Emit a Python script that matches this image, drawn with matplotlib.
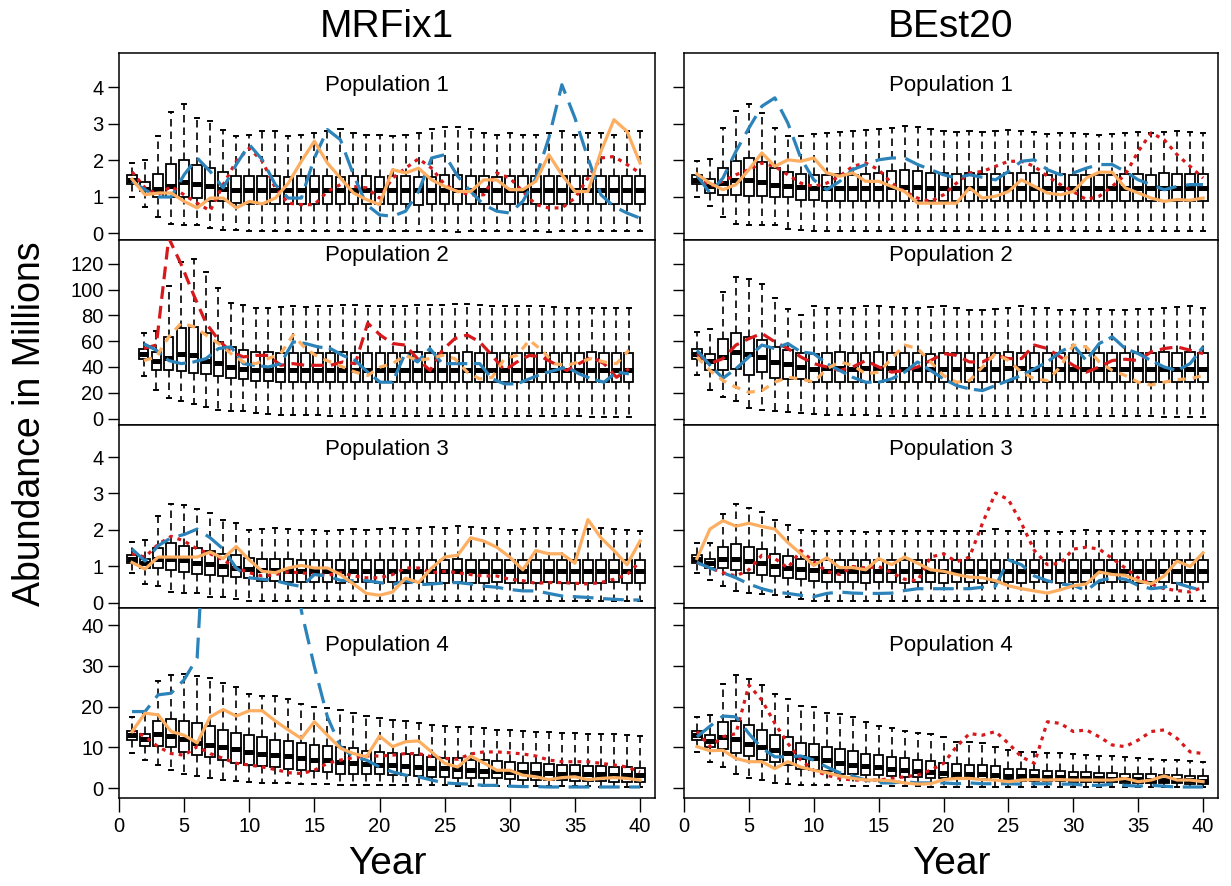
import matplotlib
matplotlib.use("Agg")
import matplotlib.pyplot as plt

plt.rcParams['font.family'] = ['Liberation Sans', 'DejaVu Sans']

years = list(range(1, 41))
col_titles = ["MRFix1", "BEst20"]
pop_titles = ["Population 1", "Population 2", "Population 3", "Population 4"]

# ---------------- Population 1, MRFix1 ----------------
p1L_lo = [1.00,0.71,0.44,0.26,0.23,0.21,0.14,0.09,0.09,0.06,
          0.05,0.05,0.06,0.05,0.05,0.05,0.06,0.05,0.05,0.05,
          0.05,0.06,0.05,0.05,0.05,0.04,0.05,0.05,0.05,0.05,
          0.05,0.05,0.04,0.05,0.05,0.05,0.05,0.05,0.05,0.05]
p1L_q1 = [1.35,1.15,0.99,0.99,0.98,0.96,0.89,0.89,0.82,0.80,
          0.80,0.79,0.80,0.79,0.80,0.79,0.80,0.80,0.80,0.79,
          0.80,0.79,0.78,0.79,0.80,0.80,0.79,0.80,0.80,0.79,
          0.80,0.80,0.81,0.80,0.79,0.80,0.80,0.80,0.79,0.80]
p1L_med = [1.45,1.22,1.20,1.30,1.40,1.35,1.30,1.20,1.18,1.18,
           1.18,1.17,1.17,1.18,1.18,1.17,1.17,1.18,1.18,1.17,
           1.18,1.18,1.17,1.17,1.18,1.19,1.18,1.18,1.17,1.18,
           1.18,1.19,1.18,1.18,1.17,1.18,1.18,1.19,1.18,1.18]
p1L_q3 = [1.58,1.39,1.63,1.90,2.00,1.87,1.78,1.67,1.57,1.56,
          1.57,1.56,1.55,1.56,1.57,1.56,1.55,1.56,1.56,1.55,
          1.57,1.56,1.55,1.55,1.58,1.58,1.57,1.56,1.55,1.56,
          1.56,1.57,1.56,1.57,1.56,1.57,1.56,1.57,1.56,1.57]
p1L_hi = [1.93,2.00,2.65,3.31,3.54,3.16,3.08,2.84,2.67,2.70,
          2.80,2.80,2.65,2.70,2.75,2.80,2.85,2.75,2.70,2.70,
          2.65,2.70,2.75,2.85,2.90,2.90,2.85,2.75,2.70,2.75,
          2.70,2.70,2.75,2.80,2.70,2.75,2.75,2.70,2.80,2.80]
p1L_red = [1.68,1.24,1.05,1.28,1.05,0.82,0.61,1.33,1.97,2.33,
           1.97,1.24,0.82,0.78,0.78,1.14,1.33,1.28,1.24,0.96,
           1.51,1.78,2.04,1.78,1.33,1.14,1.05,1.05,1.65,1.51,
           1.14,0.78,0.69,0.69,0.96,1.51,2.06,2.10,1.88,1.65]
p1L_blue = [1.42,1.19,0.99,0.99,1.60,2.06,1.69,1.24,1.88,2.43,
            2.01,1.33,0.96,0.96,2.06,2.84,2.56,1.60,0.78,0.50,
            0.46,0.60,1.14,2.06,2.15,1.56,1.14,0.78,0.60,0.55,
            0.87,1.51,2.61,4.07,3.16,2.06,1.05,0.73,0.55,0.41]
p1L_orange = [1.48,1.05,1.10,1.10,0.87,0.69,0.96,0.96,0.69,0.87,
              0.80,0.96,1.37,1.97,2.52,1.92,1.51,1.10,0.92,0.78,
              1.74,1.65,1.78,1.46,1.28,1.14,1.14,1.46,1.46,1.19,
              1.19,1.42,2.15,1.60,1.14,1.14,2.24,3.11,2.79,1.92]

# ---------------- Population 1, BEst20 ----------------
p1R_lo = [0.99,0.73,0.44,0.26,0.23,0.23,0.23,0.12,0.09,0.07,
          0.06,0.06,0.06,0.05,0.06,0.06,0.06,0.05,0.06,0.06,
          0.06,0.06,0.05,0.06,0.06,0.06,0.06,0.05,0.06,0.06,
          0.06,0.06,0.06,0.05,0.06,0.06,0.06,0.06,0.05,0.06]
p1R_q1 = [1.35,1.10,1.05,1.05,1.03,1.03,1.00,0.98,0.92,0.90,
          0.89,0.88,0.88,0.88,0.87,0.88,0.88,0.88,0.88,0.87,
          0.88,0.88,0.87,0.88,0.88,0.88,0.87,0.88,0.88,0.88,
          0.87,0.88,0.88,0.88,0.88,0.87,0.88,0.88,0.88,0.88]
p1R_med = [1.45,1.30,1.38,1.45,1.45,1.40,1.32,1.28,1.26,1.25,
           1.25,1.25,1.24,1.25,1.25,1.26,1.26,1.26,1.25,1.25,
           1.25,1.25,1.24,1.25,1.25,1.25,1.25,1.24,1.25,1.25,
           1.24,1.25,1.25,1.25,1.24,1.25,1.25,1.25,1.25,1.25]
p1R_q3 = [1.60,1.48,1.78,1.99,2.06,1.94,1.78,1.67,1.62,1.60,
          1.60,1.61,1.60,1.62,1.65,1.70,1.72,1.70,1.66,1.64,
          1.62,1.64,1.62,1.62,1.65,1.66,1.64,1.60,1.61,1.60,
          1.60,1.58,1.60,1.62,1.62,1.60,1.64,1.63,1.62,1.62]
p1R_hi = [1.99,2.04,2.87,3.34,3.54,3.30,2.88,2.65,2.67,2.72,
          2.75,2.78,2.80,2.82,2.85,2.88,2.93,2.90,2.85,2.80,
          2.78,2.80,2.78,2.80,2.82,2.80,2.78,2.72,2.75,2.75,
          2.72,2.70,2.72,2.75,2.78,2.75,2.78,2.80,2.78,2.75]
p1R_red = [1.56,1.28,1.42,1.60,1.74,1.92,1.83,1.60,1.37,1.28,
           1.37,1.56,1.83,1.92,1.74,1.37,1.14,0.96,0.87,1.05,
           1.37,1.65,1.69,1.83,1.97,1.97,1.83,1.56,1.33,1.14,
           0.92,1.01,1.28,1.60,2.24,2.75,2.56,2.15,1.83,1.51]
p1R_blue = [1.58,1.10,1.51,2.24,2.88,3.48,3.71,3.02,2.06,1.46,
            1.19,1.42,1.74,1.88,2.01,2.06,2.06,1.88,1.74,1.60,
            1.51,1.60,1.53,1.46,1.69,1.97,2.01,1.74,1.60,1.65,
            1.78,1.88,1.88,1.69,1.46,1.33,1.19,1.28,1.33,1.33]
p1R_orange = [1.62,1.37,1.19,1.33,1.74,2.20,1.83,2.01,1.97,2.06,
              1.65,1.56,1.65,1.42,1.42,1.28,1.14,0.82,0.82,0.82,
              0.82,1.24,0.96,1.01,1.14,1.46,1.28,1.10,1.05,1.14,
              1.51,1.67,1.67,1.24,1.10,0.96,0.87,0.92,0.90,0.96]

# ---------------- Population 2, MRFix1 ----------------
p2L_lo = [33.0,22.5,15.7,13.3,11.2,8.6,6.8,6.0,5.5,4.5,
          3.5,3.0,2.8,2.5,2.5,2.3,2.2,2.2,2.0,2.0,
          2.0,1.9,1.9,1.8,1.8,1.8,1.8,1.7,1.7,1.7,
          1.7,1.6,1.6,1.6,1.6,1.6,1.5,1.5,1.5,1.5]
p2L_q1 = [46.0,37.9,37.3,36.6,35.5,34.7,32.9,31.3,30.3,29.5,
          29.0,28.5,28.5,28.2,28.2,28.0,28.0,28.0,28.2,28.0,
          28.0,28.2,28.0,28.0,28.0,28.2,28.0,28.0,28.0,28.2,
          28.0,28.0,28.0,28.2,28.0,28.0,28.0,28.0,28.0,28.0]
p2L_med = [50.0,45.0,47.0,50.0,49.0,45.0,43.0,40.0,38.5,38.0,
           38.0,38.0,38.0,37.8,38.0,38.0,38.0,37.8,38.0,38.0,
           38.0,37.8,38.0,38.0,38.0,38.0,37.8,38.0,38.0,38.0,
           38.0,38.0,37.8,38.0,38.0,38.0,38.0,38.0,38.0,38.0]
p2L_q3 = [54.3,51.7,63.4,70.5,71.3,66.0,59.5,55.6,53.0,52.0,
          51.5,51.0,51.0,51.0,51.0,51.0,51.5,51.0,51.0,51.0,
          51.0,51.0,51.5,51.0,51.0,51.0,51.5,51.0,51.0,51.0,
          51.0,51.0,51.0,51.0,51.0,51.0,51.5,51.0,51.0,51.0]
p2L_hi = [66.0,68.0,102.6,121.7,124.0,114.0,101.0,89.6,87.7,86.0,
          86.0,86.5,87.0,86.5,87.0,87.0,88.0,88.0,87.5,87.0,
          87.0,87.5,88.0,88.0,88.0,88.5,88.5,88.0,87.0,87.5,
          87.0,87.0,87.0,86.5,86.0,86.0,86.0,86.0,86.0,86.0]
p2L_red = [54.3,57.0,140.0,119.6,96.0,74.0,61.0,51.7,47.8,49.0,
           49.0,41.3,42.6,41.3,41.3,41.3,43.9,42.6,74.0,64.8,
           58.2,57.0,46.5,37.3,53.0,62.0,64.8,59.5,49.0,37.3,
           43.9,49.0,47.8,42.6,37.3,42.6,47.8,42.6,32.0,38.6]
p2L_blue = [58.0,53.0,45.0,42.6,43.9,46.5,54.3,55.6,42.6,41.3,
            40.0,42.6,59.5,58.2,55.6,54.3,49.0,45.0,36.0,28.2,
            28.2,50.4,43.9,54.3,42.6,42.6,42.6,42.6,30.8,26.9,
            26.9,30.8,34.7,37.3,40.0,34.7,30.8,28.2,36.0,34.7]
p2L_orange = [45.0,47.8,63.4,74.0,71.3,64.8,58.2,50.4,43.9,42.6,
              46.5,50.4,64.8,54.3,47.8,43.9,40.0,36.0,33.4,40.0,
              42.6,49.0,45.0,46.5,49.0,46.5,36.0,30.8,32.0,46.5,
              49.0,60.8,53.0,42.6,41.3,43.9,46.5,43.9,42.6,53.0]

# ---------------- Population 2, BEst20 ----------------
p2R_lo = [34.0,22.5,16.4,13.8,7.8,6.8,6.0,5.2,4.5,3.4,
          3.0,2.8,2.5,2.5,2.3,2.2,2.0,2.0,2.0,2.0,
          1.9,1.9,1.9,1.8,1.8,1.8,1.8,1.7,1.7,1.7,
          1.7,1.6,1.6,1.6,1.6,1.6,1.5,1.5,1.5,1.5]
p2R_q1 = [46.0,38.0,37.3,38.6,33.4,36.0,31.3,30.8,30.3,28.2,
          28.5,28.5,28.2,28.5,28.5,28.2,28.2,28.5,28.5,28.2,
          28.5,28.5,28.2,28.5,28.5,28.2,28.5,28.5,28.2,28.5,
          28.5,28.2,28.5,28.5,28.2,28.5,28.5,28.5,28.2,28.5]
p2R_med = [50.0,45.0,48.0,52.0,50.0,48.0,44.0,42.0,40.0,38.5,
           39.0,39.0,38.5,39.0,39.0,39.0,38.5,38.5,38.5,38.5,
           38.5,38.5,38.5,38.5,39.0,39.0,38.5,38.5,38.5,38.5,
           38.5,38.5,38.5,38.5,38.5,38.5,38.5,38.5,38.5,38.5]
p2R_q3 = [54.0,50.0,61.6,66.0,63.4,60.8,55.6,53.0,51.0,50.4,
          51.0,51.5,51.0,51.0,51.5,51.0,51.0,50.5,50.0,50.5,
          51.0,51.0,50.5,51.0,51.5,51.0,51.0,50.5,50.5,50.5,
          51.0,50.5,50.5,50.5,51.0,51.0,51.5,51.0,51.5,51.0]
p2R_hi = [67.0,69.5,98.0,110.0,108.6,104.0,93.5,85.0,80.4,87.5,
          86.0,85.5,86.0,87.0,87.5,86.5,85.5,86.0,86.5,87.0,
          86.0,84.5,84.0,85.0,86.0,87.0,86.0,85.5,84.0,84.5,
          85.0,85.0,84.5,84.0,85.0,85.0,86.0,86.5,87.0,86.0]
p2R_red = [50.4,42.6,46.5,57.0,62.0,66.0,59.5,54.3,47.8,42.6,
           40.0,37.3,40.0,45.0,40.0,36.0,37.3,40.0,45.0,50.4,
           49.0,43.9,43.9,49.0,46.5,46.5,57.0,54.3,47.8,41.3,
           36.0,40.0,45.0,46.0,45.0,51.7,54.3,55.6,53.0,50.4]
p2R_blue = [53.0,41.3,31.3,38.6,47.8,57.0,54.3,58.2,51.7,50.4,
            42.6,37.3,32.0,28.2,28.2,30.8,36.0,43.9,37.3,30.8,
            25.6,23.0,21.7,25.6,29.5,33.4,38.6,43.9,51.7,57.0,
            45.0,58.2,63.4,54.3,50.4,45.0,40.0,37.3,42.6,55.6]
p2R_orange = [47.8,37.3,29.5,24.3,20.4,21.7,28.2,32.0,30.8,28.2,
              38.6,43.9,41.3,34.7,36.0,46.5,57.0,54.3,43.9,33.4,
              28.2,29.5,40.0,50.4,45.0,36.0,30.8,29.5,40.0,57.0,
              55.6,43.9,37.3,33.4,28.2,26.0,28.2,30.3,30.8,33.4]

# ---------------- Population 3, MRFix1 ----------------
p3L_lo = [0.82,0.51,0.45,0.29,0.26,0.26,0.16,0.16,0.11,0.04,
          0.03,0.03,0.03,0.03,0.03,0.03,0.03,0.03,0.03,0.03,
          0.03,0.03,0.03,0.03,0.03,0.03,0.03,0.03,0.03,0.03,
          0.03,0.03,0.03,0.03,0.03,0.03,0.03,0.03,0.03,0.03]
p3L_q1 = [1.08,0.95,0.95,0.90,0.84,0.79,0.75,0.73,0.70,0.67,
          0.60,0.58,0.57,0.56,0.56,0.56,0.55,0.56,0.56,0.55,
          0.56,0.55,0.56,0.55,0.55,0.56,0.55,0.55,0.56,0.55,
          0.55,0.55,0.56,0.55,0.55,0.55,0.55,0.56,0.55,0.55]
p3L_med = [1.21,1.10,1.20,1.20,1.18,1.10,1.05,1.00,0.95,0.92,
           0.90,0.89,0.88,0.88,0.87,0.87,0.87,0.87,0.86,0.87,
           0.87,0.86,0.87,0.86,0.87,0.87,0.86,0.87,0.87,0.86,
           0.86,0.87,0.86,0.86,0.87,0.86,0.86,0.87,0.86,0.86]
p3L_q3 = [1.32,1.21,1.49,1.63,1.56,1.49,1.43,1.34,1.30,1.23,
          1.21,1.20,1.19,1.18,1.18,1.18,1.17,1.18,1.18,1.17,
          1.18,1.18,1.17,1.18,1.18,1.19,1.18,1.18,1.17,1.18,
          1.18,1.17,1.18,1.18,1.17,1.18,1.18,1.17,1.18,1.18]
p3L_hi = [1.67,1.72,2.37,2.70,2.68,2.57,2.46,2.28,2.18,2.00,
          2.02,2.05,2.03,2.00,2.00,1.98,2.00,2.02,2.00,2.03,
          2.04,2.02,2.05,2.08,2.05,2.10,2.08,2.06,2.05,2.00,
          2.03,2.05,2.04,2.02,2.00,2.03,2.04,2.02,2.00,1.96]
p3L_red = [1.34,1.25,1.60,1.82,1.69,1.47,1.34,1.17,0.95,0.82,
           0.73,0.77,0.84,0.82,0.77,0.75,0.82,0.73,0.68,0.68,
           0.77,0.95,0.95,0.82,0.86,0.82,0.77,0.73,0.73,0.64,
           0.60,0.53,0.55,0.55,0.53,0.51,0.55,0.64,0.77,1.12]
p3L_blue = [1.47,1.14,1.56,1.78,1.87,2.02,1.78,1.47,0.95,0.68,
            0.64,0.60,0.51,0.44,0.77,0.73,0.61,0.60,0.60,0.55,
            0.49,0.61,0.49,0.51,0.54,0.55,0.51,0.45,0.42,0.36,
            0.32,0.32,0.25,0.18,0.16,0.14,0.11,0.09,0.07,0.07]
p3L_orange = [1.10,0.92,1.25,1.25,1.25,1.25,1.39,1.21,1.54,1.17,
              0.86,0.82,0.95,1.02,0.95,0.95,0.77,0.51,0.25,0.20,
              0.29,0.67,0.55,0.95,1.25,1.30,1.78,1.69,1.52,1.25,
              0.90,1.43,1.34,1.34,1.08,2.28,1.78,1.43,1.04,1.69]

# ---------------- Population 3, BEst20 ----------------
p3R_lo = [0.82,0.61,0.46,0.32,0.25,0.23,0.20,0.16,0.11,0.05,
          0.03,0.03,0.03,0.03,0.03,0.03,0.03,0.03,0.03,0.03,
          0.03,0.03,0.03,0.03,0.03,0.03,0.03,0.03,0.03,0.03,
          0.03,0.03,0.03,0.03,0.03,0.03,0.03,0.03,0.03,0.03]
p3R_q1 = [1.10,0.95,0.95,0.90,0.82,0.75,0.73,0.68,0.64,0.58,
          0.56,0.56,0.56,0.55,0.56,0.56,0.55,0.56,0.56,0.55,
          0.56,0.56,0.55,0.56,0.56,0.55,0.56,0.56,0.55,0.56,
          0.56,0.55,0.56,0.56,0.55,0.56,0.56,0.55,0.56,0.56]
p3R_med = [1.20,1.10,1.20,1.20,1.15,1.08,1.00,0.95,0.92,0.89,
           0.88,0.88,0.87,0.88,0.88,0.88,0.87,0.88,0.88,0.88,
           0.87,0.88,0.88,0.88,0.87,0.88,0.88,0.87,0.88,0.88,
           0.88,0.87,0.88,0.88,0.88,0.87,0.88,0.88,0.88,0.88]
p3R_q3 = [1.32,1.21,1.52,1.60,1.54,1.46,1.34,1.27,1.21,1.18,
          1.17,1.17,1.16,1.17,1.17,1.17,1.16,1.17,1.17,1.17,
          1.16,1.17,1.17,1.17,1.16,1.17,1.17,1.16,1.17,1.17,
          1.17,1.16,1.17,1.17,1.17,1.16,1.17,1.17,1.17,1.17]
p3R_hi = [1.63,1.63,2.44,2.70,2.60,2.48,2.26,2.13,2.00,1.96,
          1.96,1.98,1.96,1.95,1.96,1.96,1.98,1.96,1.97,1.96,
          1.98,1.98,1.98,2.02,1.98,1.96,1.97,1.96,1.95,1.97,
          2.00,1.96,1.97,1.96,1.96,1.98,1.97,1.98,1.96,1.96]
p3R_red = [1.10,0.95,0.82,0.73,0.90,1.30,1.21,0.95,1.43,1.12,
           0.86,0.77,0.99,0.95,0.99,0.82,0.64,0.60,1.25,1.34,
           1.12,1.25,2.18,3.01,2.83,2.18,1.43,1.04,1.08,1.47,
           1.52,1.47,1.21,0.95,0.68,0.51,0.38,0.33,0.29,0.42]
p3R_blue = [1.10,0.95,0.82,0.68,0.51,0.38,0.29,0.25,0.20,0.16,
            0.25,0.29,0.26,0.25,0.25,0.26,0.33,0.38,0.38,0.38,
            0.38,0.38,0.42,0.45,1.17,1.04,0.73,0.60,0.51,0.47,
            0.33,0.60,0.68,0.64,0.47,0.38,0.42,0.53,0.42,0.33]
p3R_orange = [1.21,2.02,2.25,2.10,2.18,2.09,2.02,1.65,1.34,1.02,
              1.23,0.96,0.96,0.90,1.21,1.04,1.25,1.08,0.90,0.86,
              0.77,0.70,0.68,0.60,0.46,0.38,0.32,0.26,0.35,0.46,
              0.51,0.84,0.77,0.75,0.60,0.51,0.73,1.14,0.99,1.37]

# ---------------- Population 4, MRFix1 ----------------
p4L_lo = [8.7,6.9,5.7,4.4,3.6,3.0,2.4,2.0,1.7,1.6,
          1.4,1.3,1.2,1.1,1.0,1.0,0.9,0.9,0.8,0.8,
          0.8,0.7,0.7,0.7,0.7,0.6,0.6,0.6,0.6,0.6,
          0.5,0.5,0.5,0.5,0.5,0.5,0.4,0.4,0.4,0.4]
p4L_q1 = [11.8,10.3,10.3,10.0,8.9,8.1,7.7,6.9,6.2,5.7,
          5.4,5.2,4.8,4.4,4.3,4.0,3.6,3.6,3.4,3.4,
          3.2,3.2,3.0,2.8,2.8,2.6,2.6,2.4,2.4,2.2,
          2.1,2.0,2.0,1.9,1.8,1.8,1.7,1.6,1.6,1.5]
p4L_med = [13.0,12.0,13.2,12.8,12.0,11.0,10.5,10.0,9.5,9.0,
           8.5,8.2,7.8,7.3,7.0,6.8,6.5,6.2,6.0,5.8,
           5.6,5.4,5.2,5.0,4.9,4.7,4.5,4.3,4.2,4.0,
           3.9,3.8,3.7,3.6,3.5,3.5,3.4,3.3,3.2,3.2]
p4L_q3 = [14.1,13.4,16.6,16.9,16.6,16.1,15.2,14.4,13.6,13.0,
          12.5,11.8,11.6,11.0,10.6,10.3,10.2,9.8,9.2,8.9,
          8.7,8.4,8.1,7.7,7.5,7.3,7.0,6.9,6.7,6.5,
          6.3,6.1,6.0,5.8,5.7,5.5,5.4,5.3,5.1,5.0]
p4L_hi = [17.5,18.4,26.3,27.8,28.0,27.5,27.0,25.9,24.8,23.1,
          22.6,22.5,21.8,20.7,20.0,19.6,19.2,18.4,17.7,17.1,
          16.7,16.6,16.0,15.5,15.2,15.1,14.9,14.7,14.4,14.3,
          14.0,13.9,13.8,13.6,13.5,13.4,13.3,13.2,13.0,12.9]
p4L_red = [14.4,12.6,10.2,8.5,8.1,10.2,8.5,7.3,6.1,5.7,
           5.2,4.6,3.8,3.6,4.4,6.1,6.9,7.5,7.9,7.9,
           8.1,8.5,8.5,7.7,7.3,7.1,8.4,8.9,8.9,8.7,
           8.4,7.9,6.9,6.5,6.5,6.5,6.1,5.7,5.2,4.0]
p4L_blue = [18.8,18.8,22.9,23.3,26.6,32.0,90.0,120.0,110.0,100.0,
            95.0,85.0,70.0,43.5,29.8,17.5,10.2,7.7,6.9,5.2,
            4.0,3.2,2.8,2.0,1.3,1.1,1.0,0.7,0.7,0.5,
            0.4,0.4,0.3,0.3,0.3,0.3,0.3,0.3,0.3,0.3]
p4L_orange = [13.9,18.4,18.0,13.9,13.0,11.1,17.5,19.3,17.7,19.0,
              19.0,16.5,14.3,12.2,16.3,13.0,9.8,8.5,7.7,12.8,
              10.2,11.4,11.6,8.9,6.1,5.2,7.9,6.2,4.4,4.4,
              3.2,2.8,2.1,2.6,2.8,2.1,2.4,2.6,2.4,2.0]

# ---------------- Population 4, BEst20 ----------------
p4R_lo = [8.9,6.5,5.2,3.6,2.4,2.0,1.3,1.1,0.9,0.8,
          0.7,0.7,0.6,0.6,0.5,0.5,0.5,0.5,0.4,0.4,
          0.4,0.4,0.4,0.4,0.3,0.3,0.3,0.3,0.3,0.3,
          0.3,0.3,0.3,0.3,0.3,0.3,0.3,0.3,0.3,0.3]
p4R_q1 = [11.8,10.2,9.6,8.7,7.9,6.9,6.5,5.7,4.8,4.4,
          4.3,3.6,3.4,3.2,3.2,3.0,2.8,2.8,2.6,2.4,
          2.4,2.2,2.2,2.0,2.0,1.8,1.8,1.7,1.7,1.6,
          1.6,1.5,1.5,1.4,1.4,1.3,1.3,1.2,1.1,1.0]
p4R_med = [13.0,11.5,12.5,12.0,10.8,10.0,9.4,8.7,7.7,7.3,
           6.8,6.3,5.8,5.4,5.1,4.8,4.5,4.3,4.0,3.8,
           3.6,3.5,3.4,3.3,3.1,3.0,2.9,2.8,2.7,2.6,
           2.5,2.4,2.3,2.2,2.2,2.1,2.0,2.0,1.9,1.8]
p4R_q3 = [14.1,13.0,16.3,16.6,15.5,14.3,13.0,12.5,11.1,10.8,
          10.2,9.6,9.2,8.4,8.1,7.7,7.3,6.9,6.6,6.2,
          5.9,5.8,5.7,5.4,4.8,4.6,4.4,4.3,4.2,4.0,
          3.9,3.8,3.7,3.6,3.5,3.4,3.3,3.2,3.1,3.0]
p4R_hi = [17.4,18.0,25.6,27.8,26.7,25.3,23.1,21.9,20.2,19.8,
          18.5,18.2,17.4,16.3,15.2,14.7,14.1,13.6,13.4,12.6,
          11.4,11.4,11.1,10.2,9.3,8.9,8.9,8.7,8.6,8.4,
          8.2,8.0,7.8,7.6,7.4,7.2,7.0,6.9,6.7,6.5]
p4R_red = [13.9,10.2,12.6,13.4,25.3,21.6,15.9,11.0,6.9,4.4,
           3.2,2.4,2.0,2.0,2.0,2.4,2.8,3.2,4.4,6.1,
           10.2,13.4,13.0,13.9,11.0,7.7,6.1,16.3,15.9,13.9,
           14.3,12.6,10.6,10.2,11.8,13.9,14.3,12.2,8.9,8.5]
p4R_blue = [12.6,15.2,17.7,17.5,13.4,9.8,7.7,7.7,7.9,6.9,
            5.2,3.8,3.0,2.0,1.3,1.3,1.6,1.3,1.3,1.3,
            1.1,1.3,1.1,1.1,1.1,1.0,1.1,1.1,1.0,1.0,
            0.7,0.7,1.0,0.7,0.5,0.7,0.5,0.3,0.3,0.3]
p4R_orange = [10.2,9.2,9.3,7.3,6.5,6.5,4.8,6.5,5.2,4.4,
              3.8,3.0,2.4,2.0,2.0,1.8,1.3,1.0,1.1,2.1,
              2.4,2.4,2.1,2.0,1.6,2.0,2.1,2.0,2.1,2.0,
              2.0,2.0,2.0,2.4,1.6,2.0,3.0,2.0,2.0,1.6]

# panel tables: rows = population, cols = MRFix1 / BEst20
boxes = [
    [(p1L_lo, p1L_q1, p1L_med, p1L_q3, p1L_hi), (p1R_lo, p1R_q1, p1R_med, p1R_q3, p1R_hi)],
    [(p2L_lo, p2L_q1, p2L_med, p2L_q3, p2L_hi), (p2R_lo, p2R_q1, p2R_med, p2R_q3, p2R_hi)],
    [(p3L_lo, p3L_q1, p3L_med, p3L_q3, p3L_hi), (p3R_lo, p3R_q1, p3R_med, p3R_q3, p3R_hi)],
    [(p4L_lo, p4L_q1, p4L_med, p4L_q3, p4L_hi), (p4R_lo, p4R_q1, p4R_med, p4R_q3, p4R_hi)],
]
lines = [
    [(p1L_red, p1L_blue, p1L_orange), (p1R_red, p1R_blue, p1R_orange)],
    [(p2L_red, p2L_blue, p2L_orange), (p2R_red, p2R_blue, p2R_orange)],
    [(p3L_red, p3L_blue, p3L_orange), (p3R_red, p3R_blue, p3R_orange)],
    [(p4L_red, p4L_blue, p4L_orange), (p4R_red, p4R_blue, p4R_orange)],
]

yticks = [[0, 1, 2, 3, 4], [0, 20, 40, 60, 80, 100, 120], [0, 1, 2, 3, 4], [0, 10, 20, 30, 40]]
ylims = [(-0.19, 4.94), (-5.0, 138.5), (-0.15, 4.88), (-2.4, 44.2)]
title_y = [0.825, 0.918, 0.868, 0.805]

red, blue, orange = "#d7191c", "#2b83ba", "#fdae61"
line_lw = 2.3
styles_other = [(0, (1.2, 1.6)), (0, (6.5, 3.0)), "-"]
styles_pop2 = [(0, (4.0, 2.2)), (0, (6.5, 2.0)), (0, (2.6, 2.2))]

# frame positions in figure fraction
col_left = [119 / 1231, 684 / 1231]
col_w = [536 / 1231, 534 / 1231]
row_edges = [53, 240, 425, 608, 798]

fig = plt.figure(figsize=(12.31, 8.86), dpi=100)

for r in range(4):
    top, bot = row_edges[r], row_edges[r + 1]
    for c in range(2):
        ax = fig.add_axes([col_left[c], 1 - bot / 886, col_w[c], (bot - top) / 886])
        lo, q1, med, q3, hi = boxes[r][c]
        stats = [dict(whislo=lo[i], q1=q1[i], med=med[i], q3=q3[i], whishi=hi[i], fliers=[])
                 for i in range(len(years))]
        ax.bxp(stats, positions=years, widths=0.74, capwidths=0.32, showfliers=False,
               patch_artist=True,
               boxprops=dict(facecolor="white", edgecolor="black", linewidth=1.3),
               medianprops=dict(color="black", linewidth=3.6, solid_capstyle="butt"),
               whiskerprops=dict(color="black", linewidth=1.2, linestyle=(0, (4.5, 3.0))),
               capprops=dict(color="black", linewidth=1.4),
               manage_ticks=False)
        styles = styles_pop2 if r == 1 else styles_other
        for vals, colr, ls in zip(lines[r][c], [red, blue, orange], styles):
            ax.plot(years, vals, color=colr, linestyle=ls, linewidth=line_lw, zorder=5)

        # MRFix1 population 2 uses the default boxplot range
        if r == 1 and c == 0:
            ax.set_xlim(-1.0, 42.1)
        else:
            ax.set_xlim(0, 41.15)
        ax.set_ylim(*ylims[r])
        ax.set_yticks(yticks[r])
        ax.tick_params(axis="y", direction="out", length=8, width=1.0, labelsize=14.5, pad=3)
        if c == 1:
            ax.set_yticklabels([])
        if r == 3:
            ax.set_xticks([0, 5, 10, 15, 20, 25, 30, 35, 40])
            ax.tick_params(axis="x", direction="out", length=10, width=1.0, labelsize=14.5, pad=4)
        else:
            ax.set_xticks([])
        for sp in ax.spines.values():
            sp.set_linewidth(1.1)
        ax.text(0.5, title_y[r], pop_titles[r], transform=ax.transAxes,
                ha="center", va="center", fontsize=16)

fig.text(387 / 1231, 1 - 27 / 886, col_titles[0], ha="center", va="center", fontsize=28)
fig.text(951 / 1231, 1 - 27 / 886, col_titles[1], ha="center", va="center", fontsize=28)
fig.text(387 / 1231, 1 - 864 / 886, "Year", ha="center", va="center", fontsize=28)
fig.text(951 / 1231, 1 - 864 / 886, "Year", ha="center", va="center", fontsize=28)
fig.text(30 / 1231, 1 - 424 / 886, "Abundance in Millions", ha="center", va="center",
         rotation=90, fontsize=27)

fig.savefig("out.png", dpi=100)
